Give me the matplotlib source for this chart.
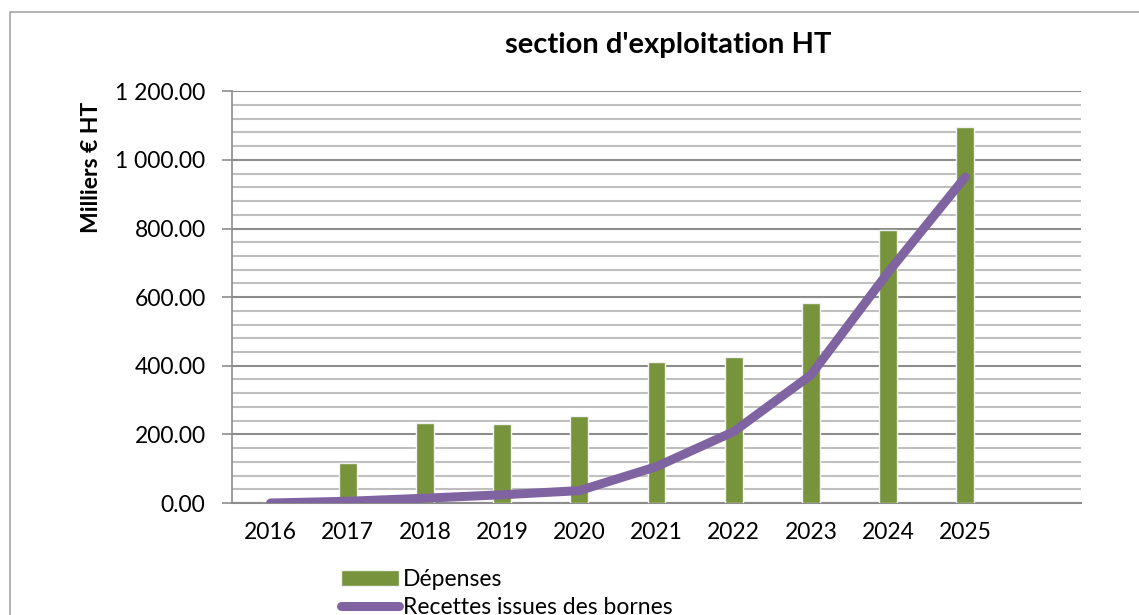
import matplotlib
matplotlib.use("Agg")
import matplotlib.pyplot as plt
from matplotlib.ticker import FuncFormatter, MultipleLocator
from matplotlib.patches import Rectangle

years = ["2016", "2017", "2018", "2019", "2020", "2021", "2022", "2023", "2024", "2025"]
depenses = [0, 118, 232, 231, 254, 410, 425, 584, 797, 1097]
recettes = [0, 5, 14, 24, 36, 106, 208, 373, 672, 950]

title = "section d'exploitation HT"
ylabel = "Milliers € HT"
labels = ["Dépenses", "Recettes issues des bornes"]

GREEN = "#77933C"
PURPLE = "#8064A2"
FONT = "Lato"

fig = plt.figure(figsize=(11.39, 6.15), dpi=100)
fig.patch.set_facecolor("white")
# outer chart frame
fig.patches.append(Rectangle((10 / 1139, -0.1), 1.2, (615 - 12) / 615 + 0.1,
                             transform=fig.transFigure, fill=False,
                             edgecolor="#A6A6A6", linewidth=1.2))

ax = fig.add_axes([232 / 1139, (615 - 503) / 615, (1081 - 232) / 1139, (503 - 91.3) / 615])
x = list(range(len(years)))

bars = ax.bar(x, depenses, width=0.23, color=GREEN, edgecolor="#F2F2F2", linewidth=1.0,
              zorder=3, label=labels[0])
line, = ax.plot(x, recettes, color=PURPLE, linewidth=6.5, solid_capstyle="round",
                solid_joinstyle="round", zorder=4, label=labels[1])

ax.set_xlim(-0.5, 10.5)
ax.set_ylim(0, 1200)
ax.yaxis.set_major_locator(MultipleLocator(200))
ax.yaxis.set_minor_locator(MultipleLocator(40))
ax.grid(which="major", axis="y", color="#8C8C8C", linewidth=1.5, zorder=0)
ax.grid(which="minor", axis="y", color="#BFBFBF", linewidth=1.5, zorder=0)
ax.set_axisbelow(True)

def fmt(v, pos):
    return f"{v:,.2f}".replace(",", " ")
ax.yaxis.set_major_formatter(FuncFormatter(fmt))
ax.set_xticks(x)
ax.set_xticklabels(years, fontsize=16.5, fontfamily=FONT)
for lab in ax.get_yticklabels():
    lab.set_fontsize(16.5)
    lab.set_fontfamily(FONT)
ax.tick_params(axis="x", length=0, pad=14)
ax.tick_params(axis="y", which="major", length=7, width=1.2, color="#8C8C8C", pad=12)
ax.tick_params(axis="y", which="minor", length=0)

for side in ["top", "right"]:
    ax.spines[side].set_visible(False)
ax.spines["left"].set_color("#8C8C8C")
ax.spines["left"].set_linewidth(1.2)
ax.spines["bottom"].set_color("#8C8C8C")
ax.spines["bottom"].set_linewidth(1.5)

fig.text(668 / 1139, (615 - 45) / 615, title, ha="center", va="center",
         fontsize=21, fontweight="bold", fontfamily=FONT)
fig.text(91 / 1139, (615 - 167) / 615, ylabel, ha="center", va="center",
         rotation=90, fontsize=16.5, fontweight="bold", fontfamily=FONT)

leg = fig.legend(handles=[bars, line], labels=labels,
                 loc="upper left", bbox_to_anchor=(341 / 1139, (615 - 569) / 615),
                 frameon=False, prop={"family": FONT, "size": 16.5},
                 handlelength=2.55, handletextpad=0.15, labelspacing=0.3,
                 borderpad=0, borderaxespad=0)

fig.savefig("out.png", dpi=100)
